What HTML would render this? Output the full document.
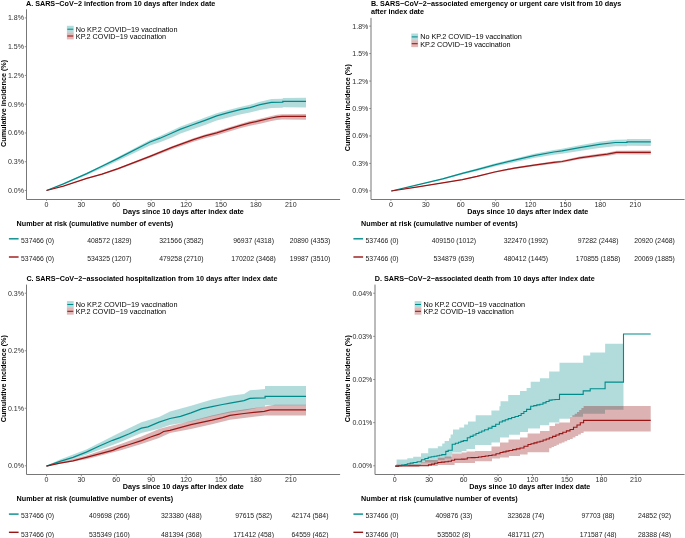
<!DOCTYPE html>
<html><head><meta charset="utf-8"><style>
html,body{margin:0;padding:0;background:#fff;}
body{width:685px;height:538px;overflow:hidden;}
svg{display:block;font-family:"Liberation Sans", sans-serif;will-change:transform;}
</style></head><body>
<svg width="685" height="538" viewBox="0 0 685 538">
<rect width="685" height="538" fill="#fff"/>
<text x="26.00" y="5.80" font-size="7.2" text-anchor="start" font-weight="bold" fill="#000" >A. SARS−CoV−2 infection from 10 days after index date</text>
<polygon points="46.50,190.50 63.40,183.45 86.70,172.77 101.90,165.15 118.00,156.96 150.00,139.97 160.00,135.89 172.00,130.40 180.00,126.77 193.40,121.82 200.00,119.50 205.00,117.59 216.70,113.16 228.40,109.94 240.00,106.91 250.00,104.79 260.00,101.66 271.40,99.00 282.80,98.72 282.80,98.02 306.00,97.85 306.00,107.45 282.80,107.16 282.80,107.86 271.40,107.91 260.00,109.88 250.00,112.39 240.00,114.45 228.40,117.41 216.70,120.56 205.00,124.92 200.00,126.80 193.40,129.06 180.00,133.87 172.00,137.42 160.00,142.14 150.00,145.47 118.00,160.86 101.90,168.25 86.70,175.02 63.40,184.40 46.50,190.50" fill="#008B8B" fill-opacity="0.3" stroke="none"/>
<polygon points="46.50,190.50 63.40,185.94 86.70,178.02 101.90,173.67 118.00,167.92 150.00,155.33 172.00,146.24 193.40,138.25 205.00,134.46 216.70,131.27 228.40,127.57 240.00,123.88 250.00,121.11 260.00,118.83 271.40,116.05 277.00,114.81 282.00,114.28 306.00,114.12 306.00,119.72 282.00,119.46 277.00,119.91 271.40,121.05 260.00,123.63 250.00,125.71 240.00,128.28 228.40,131.74 216.70,135.20 205.00,138.16 193.40,141.71 172.00,149.21 150.00,157.81 118.00,169.67 101.90,175.03 86.70,179.00 63.40,186.35 46.50,190.50" fill="#8B0000" fill-opacity="0.3" stroke="none"/>
<polyline points="46.50,190.50 63.40,183.80 86.70,173.60 101.90,166.30 118.00,158.40 150.00,142.00 160.00,138.20 172.00,133.00 180.00,129.40 193.40,124.50 200.00,122.20 205.00,120.30 216.70,115.90 228.40,112.70 240.00,109.70 250.00,107.60 260.00,104.70 271.40,102.30 282.80,102.10 282.80,101.40 306.00,101.40" fill="none" stroke="#008B8B" stroke-width="1.25" stroke-linejoin="miter"/>
<polyline points="46.50,190.50 63.40,186.10 86.70,178.40 101.90,174.20 118.00,168.60 150.00,156.30 172.00,147.40 193.40,139.60 205.00,135.90 216.70,132.80 228.40,129.20 240.00,125.60 250.00,122.90 260.00,120.70 271.40,118.00 277.00,116.80 282.00,116.30 306.00,116.30" fill="none" stroke="#9A1414" stroke-width="1.25" stroke-linejoin="miter"/>
<path d="M26.50,9.30 L26.50,199.50 L340.10,199.50" fill="none" stroke="#777777" stroke-width="1"/>
<line x1="24.80" y1="190.47" x2="26.60" y2="190.47" stroke="#777777" stroke-width="0.8"/>
<text x="24.00" y="192.94" font-size="7.06" text-anchor="end" font-weight="normal" fill="#2e2e2e" >0.0%</text>
<line x1="24.80" y1="161.72" x2="26.60" y2="161.72" stroke="#777777" stroke-width="0.8"/>
<text x="24.00" y="164.19" font-size="7.06" text-anchor="end" font-weight="normal" fill="#2e2e2e" >0.3%</text>
<line x1="24.80" y1="132.96" x2="26.60" y2="132.96" stroke="#777777" stroke-width="0.8"/>
<text x="24.00" y="135.43" font-size="7.06" text-anchor="end" font-weight="normal" fill="#2e2e2e" >0.6%</text>
<line x1="24.80" y1="104.20" x2="26.60" y2="104.20" stroke="#777777" stroke-width="0.8"/>
<text x="24.00" y="106.67" font-size="7.06" text-anchor="end" font-weight="normal" fill="#2e2e2e" >0.9%</text>
<line x1="24.80" y1="75.44" x2="26.60" y2="75.44" stroke="#777777" stroke-width="0.8"/>
<text x="24.00" y="77.91" font-size="7.06" text-anchor="end" font-weight="normal" fill="#2e2e2e" >1.2%</text>
<line x1="24.80" y1="46.68" x2="26.60" y2="46.68" stroke="#777777" stroke-width="0.8"/>
<text x="24.00" y="49.16" font-size="7.06" text-anchor="end" font-weight="normal" fill="#2e2e2e" >1.5%</text>
<line x1="24.80" y1="17.93" x2="26.60" y2="17.93" stroke="#777777" stroke-width="0.8"/>
<text x="24.00" y="20.40" font-size="7.06" text-anchor="end" font-weight="normal" fill="#2e2e2e" >1.8%</text>
<line x1="46.49" y1="199.10" x2="46.49" y2="200.90" stroke="#777777" stroke-width="0.8"/>
<text x="46.49" y="206.90" font-size="7.06" text-anchor="middle" font-weight="normal" fill="#2e2e2e" >0</text>
<line x1="81.39" y1="199.10" x2="81.39" y2="200.90" stroke="#777777" stroke-width="0.8"/>
<text x="81.39" y="206.90" font-size="7.06" text-anchor="middle" font-weight="normal" fill="#2e2e2e" >30</text>
<line x1="116.29" y1="199.10" x2="116.29" y2="200.90" stroke="#777777" stroke-width="0.8"/>
<text x="116.29" y="206.90" font-size="7.06" text-anchor="middle" font-weight="normal" fill="#2e2e2e" >60</text>
<line x1="151.19" y1="199.10" x2="151.19" y2="200.90" stroke="#777777" stroke-width="0.8"/>
<text x="151.19" y="206.90" font-size="7.06" text-anchor="middle" font-weight="normal" fill="#2e2e2e" >90</text>
<line x1="186.08" y1="199.10" x2="186.08" y2="200.90" stroke="#777777" stroke-width="0.8"/>
<text x="186.08" y="206.90" font-size="7.06" text-anchor="middle" font-weight="normal" fill="#2e2e2e" >120</text>
<line x1="220.98" y1="199.10" x2="220.98" y2="200.90" stroke="#777777" stroke-width="0.8"/>
<text x="220.98" y="206.90" font-size="7.06" text-anchor="middle" font-weight="normal" fill="#2e2e2e" >150</text>
<line x1="255.88" y1="199.10" x2="255.88" y2="200.90" stroke="#777777" stroke-width="0.8"/>
<text x="255.88" y="206.90" font-size="7.06" text-anchor="middle" font-weight="normal" fill="#2e2e2e" >180</text>
<line x1="290.78" y1="199.10" x2="290.78" y2="200.90" stroke="#777777" stroke-width="0.8"/>
<text x="290.78" y="206.90" font-size="7.06" text-anchor="middle" font-weight="normal" fill="#2e2e2e" >210</text>
<text x="183.35" y="214.10" font-size="7.2" text-anchor="middle" font-weight="bold" fill="#000" >Days since 10 days after index date</text>
<text transform="translate(6.10,103.40) rotate(-90)" x="0" y="0" font-size="7.2" text-anchor="middle" font-weight="bold" fill="#000">Cumulative incidence (%)</text>
<rect x="66.90" y="25.80" width="6.8" height="6.8" fill="#008B8B" fill-opacity="0.3"/>
<line x1="67.30" y1="29.20" x2="73.30" y2="29.20" stroke="#008B8B" stroke-width="1.05"/>
<text x="75.80" y="31.69" font-size="7.25" text-anchor="start" font-weight="normal" fill="#000" >No KP.2 COVID−19 vaccination</text>
<rect x="66.90" y="32.60" width="6.8" height="6.8" fill="#9A1414" fill-opacity="0.3"/>
<line x1="67.30" y1="36.00" x2="73.30" y2="36.00" stroke="#9A1414" stroke-width="1.05"/>
<text x="75.80" y="39.09" font-size="7.25" text-anchor="start" font-weight="normal" fill="#000" >KP.2 COVID−19 vaccination</text>
<text x="16.60" y="225.90" font-size="7.2" text-anchor="start" font-weight="bold" fill="#000" >Number at risk (cumulative number of events)</text>
<line x1="8.90" y1="238.80" x2="18.60" y2="238.80" stroke="#008B8B" stroke-width="1.4"/>
<text x="37.60" y="243.10" font-size="6.85" text-anchor="middle" font-weight="normal" fill="#1a1a1a" >537466 (0)</text>
<text x="109.40" y="243.10" font-size="6.85" text-anchor="middle" font-weight="normal" fill="#1a1a1a" >408572 (1829)</text>
<text x="181.40" y="243.10" font-size="6.85" text-anchor="middle" font-weight="normal" fill="#1a1a1a" >321566 (3582)</text>
<text x="253.60" y="243.10" font-size="6.85" text-anchor="middle" font-weight="normal" fill="#1a1a1a" >96937 (4318)</text>
<text x="310.00" y="243.10" font-size="6.85" text-anchor="middle" font-weight="normal" fill="#1a1a1a" >20890 (4353)</text>
<line x1="8.90" y1="257.00" x2="18.60" y2="257.00" stroke="#9A1414" stroke-width="1.4"/>
<text x="37.60" y="261.30" font-size="6.85" text-anchor="middle" font-weight="normal" fill="#1a1a1a" >537466 (0)</text>
<text x="109.40" y="261.30" font-size="6.85" text-anchor="middle" font-weight="normal" fill="#1a1a1a" >534325 (1207)</text>
<text x="181.40" y="261.30" font-size="6.85" text-anchor="middle" font-weight="normal" fill="#1a1a1a" >479258 (2710)</text>
<text x="253.60" y="261.30" font-size="6.85" text-anchor="middle" font-weight="normal" fill="#1a1a1a" >170202 (3468)</text>
<text x="310.00" y="261.30" font-size="6.85" text-anchor="middle" font-weight="normal" fill="#1a1a1a" >19987 (3510)</text>
<text x="370.90" y="6.00" font-size="7.2" text-anchor="start" font-weight="bold" fill="#000" >B. SARS−CoV−2−associated emergency or urgent care visit from 10 days</text>
<text x="370.90" y="13.90" font-size="7.2" text-anchor="start" font-weight="bold" fill="#000" >after index date</text>
<polygon points="391.30,191.00 416.30,184.89 442.60,178.27 462.30,172.53 477.00,168.56 494.70,163.54 514.40,158.71 534.10,153.86 553.80,149.98 562.00,148.66 579.70,145.20 599.40,141.72 615.20,139.71 627.00,139.43 627.00,139.03 650.80,138.88 650.80,146.08 627.00,145.86 627.00,146.26 615.20,146.35 599.40,148.10 579.70,150.91 562.00,153.76 553.80,154.79 534.10,158.00 514.40,162.26 494.70,166.54 477.00,171.04 462.30,174.60 442.60,179.77 416.30,185.62 391.30,191.00" fill="#008B8B" fill-opacity="0.3" stroke="none"/>
<polygon points="391.30,191.00 416.30,187.04 442.60,182.58 462.30,179.16 477.00,175.87 494.70,171.36 514.40,167.33 534.10,164.29 553.80,161.36 562.00,160.41 579.70,156.59 599.40,153.85 607.30,152.79 616.50,150.80 650.80,150.50 650.80,154.50 616.50,154.13 607.30,155.93 599.40,156.85 579.70,159.28 562.00,162.84 553.80,163.67 534.10,166.31 514.40,169.04 494.70,172.78 477.00,177.05 462.30,180.14 442.60,183.29 416.30,187.39 391.30,191.00" fill="#8B0000" fill-opacity="0.3" stroke="none"/>
<polyline points="391.30,191.00 416.30,185.20 442.60,178.90 462.30,173.40 477.00,169.60 494.70,164.80 514.40,160.20 534.10,155.60 553.80,152.00 562.00,150.80 579.70,147.60 599.40,144.40 615.20,142.50 627.00,142.30 627.00,141.90 650.80,141.90" fill="none" stroke="#008B8B" stroke-width="1.25" stroke-linejoin="miter"/>
<polyline points="391.30,191.00 416.30,187.20 442.60,182.90 462.30,179.60 477.00,176.40 494.70,172.00 514.40,168.10 534.10,165.20 553.80,162.40 562.00,161.50 579.70,157.80 599.40,155.20 607.30,154.20 616.50,152.30 650.80,152.30" fill="none" stroke="#9A1414" stroke-width="1.25" stroke-linejoin="miter"/>
<path d="M371.00,17.90 L371.00,199.50 L684.60,199.50" fill="none" stroke="#777777" stroke-width="1"/>
<line x1="369.20" y1="190.86" x2="371.00" y2="190.86" stroke="#777777" stroke-width="0.8"/>
<text x="368.40" y="193.33" font-size="7.06" text-anchor="end" font-weight="normal" fill="#2e2e2e" >0.0%</text>
<line x1="369.20" y1="163.41" x2="371.00" y2="163.41" stroke="#777777" stroke-width="0.8"/>
<text x="368.40" y="165.88" font-size="7.06" text-anchor="end" font-weight="normal" fill="#2e2e2e" >0.3%</text>
<line x1="369.20" y1="135.95" x2="371.00" y2="135.95" stroke="#777777" stroke-width="0.8"/>
<text x="368.40" y="138.43" font-size="7.06" text-anchor="end" font-weight="normal" fill="#2e2e2e" >0.6%</text>
<line x1="369.20" y1="108.50" x2="371.00" y2="108.50" stroke="#777777" stroke-width="0.8"/>
<text x="368.40" y="110.97" font-size="7.06" text-anchor="end" font-weight="normal" fill="#2e2e2e" >0.9%</text>
<line x1="369.20" y1="81.05" x2="371.00" y2="81.05" stroke="#777777" stroke-width="0.8"/>
<text x="368.40" y="83.52" font-size="7.06" text-anchor="end" font-weight="normal" fill="#2e2e2e" >1.2%</text>
<line x1="369.20" y1="53.59" x2="371.00" y2="53.59" stroke="#777777" stroke-width="0.8"/>
<text x="368.40" y="56.06" font-size="7.06" text-anchor="end" font-weight="normal" fill="#2e2e2e" >1.5%</text>
<line x1="369.20" y1="26.14" x2="371.00" y2="26.14" stroke="#777777" stroke-width="0.8"/>
<text x="368.40" y="28.61" font-size="7.06" text-anchor="end" font-weight="normal" fill="#2e2e2e" >1.8%</text>
<line x1="390.90" y1="199.10" x2="390.90" y2="200.90" stroke="#777777" stroke-width="0.8"/>
<text x="390.90" y="206.90" font-size="7.06" text-anchor="middle" font-weight="normal" fill="#2e2e2e" >0</text>
<line x1="425.81" y1="199.10" x2="425.81" y2="200.90" stroke="#777777" stroke-width="0.8"/>
<text x="425.81" y="206.90" font-size="7.06" text-anchor="middle" font-weight="normal" fill="#2e2e2e" >30</text>
<line x1="460.72" y1="199.10" x2="460.72" y2="200.90" stroke="#777777" stroke-width="0.8"/>
<text x="460.72" y="206.90" font-size="7.06" text-anchor="middle" font-weight="normal" fill="#2e2e2e" >60</text>
<line x1="495.63" y1="199.10" x2="495.63" y2="200.90" stroke="#777777" stroke-width="0.8"/>
<text x="495.63" y="206.90" font-size="7.06" text-anchor="middle" font-weight="normal" fill="#2e2e2e" >90</text>
<line x1="530.53" y1="199.10" x2="530.53" y2="200.90" stroke="#777777" stroke-width="0.8"/>
<text x="530.53" y="206.90" font-size="7.06" text-anchor="middle" font-weight="normal" fill="#2e2e2e" >120</text>
<line x1="565.44" y1="199.10" x2="565.44" y2="200.90" stroke="#777777" stroke-width="0.8"/>
<text x="565.44" y="206.90" font-size="7.06" text-anchor="middle" font-weight="normal" fill="#2e2e2e" >150</text>
<line x1="600.35" y1="199.10" x2="600.35" y2="200.90" stroke="#777777" stroke-width="0.8"/>
<text x="600.35" y="206.90" font-size="7.06" text-anchor="middle" font-weight="normal" fill="#2e2e2e" >180</text>
<line x1="635.26" y1="199.10" x2="635.26" y2="200.90" stroke="#777777" stroke-width="0.8"/>
<text x="635.26" y="206.90" font-size="7.06" text-anchor="middle" font-weight="normal" fill="#2e2e2e" >210</text>
<text x="527.80" y="214.10" font-size="7.2" text-anchor="middle" font-weight="bold" fill="#000" >Days since 10 days after index date</text>
<text transform="translate(350.00,107.70) rotate(-90)" x="0" y="0" font-size="7.2" text-anchor="middle" font-weight="bold" fill="#000">Cumulative incidence (%)</text>
<rect x="411.30" y="33.50" width="6.8" height="6.8" fill="#008B8B" fill-opacity="0.3"/>
<line x1="411.70" y1="36.90" x2="417.70" y2="36.90" stroke="#008B8B" stroke-width="1.05"/>
<text x="420.20" y="39.39" font-size="7.25" text-anchor="start" font-weight="normal" fill="#000" >No KP.2 COVID−19 vaccination</text>
<rect x="411.30" y="40.30" width="6.8" height="6.8" fill="#9A1414" fill-opacity="0.3"/>
<line x1="411.70" y1="43.70" x2="417.70" y2="43.70" stroke="#9A1414" stroke-width="1.05"/>
<text x="420.20" y="46.79" font-size="7.25" text-anchor="start" font-weight="normal" fill="#000" >KP.2 COVID−19 vaccination</text>
<text x="361.10" y="225.90" font-size="7.2" text-anchor="start" font-weight="bold" fill="#000" >Number at risk (cumulative number of events)</text>
<line x1="353.40" y1="238.80" x2="363.10" y2="238.80" stroke="#008B8B" stroke-width="1.4"/>
<text x="382.10" y="243.10" font-size="6.85" text-anchor="middle" font-weight="normal" fill="#1a1a1a" >537466 (0)</text>
<text x="453.90" y="243.10" font-size="6.85" text-anchor="middle" font-weight="normal" fill="#1a1a1a" >409150 (1012)</text>
<text x="525.90" y="243.10" font-size="6.85" text-anchor="middle" font-weight="normal" fill="#1a1a1a" >322470 (1992)</text>
<text x="598.10" y="243.10" font-size="6.85" text-anchor="middle" font-weight="normal" fill="#1a1a1a" >97282 (2448)</text>
<text x="654.50" y="243.10" font-size="6.85" text-anchor="middle" font-weight="normal" fill="#1a1a1a" >20920 (2468)</text>
<line x1="353.40" y1="257.00" x2="363.10" y2="257.00" stroke="#9A1414" stroke-width="1.4"/>
<text x="382.10" y="261.30" font-size="6.85" text-anchor="middle" font-weight="normal" fill="#1a1a1a" >537466 (0)</text>
<text x="453.90" y="261.30" font-size="6.85" text-anchor="middle" font-weight="normal" fill="#1a1a1a" >534879 (639)</text>
<text x="525.90" y="261.30" font-size="6.85" text-anchor="middle" font-weight="normal" fill="#1a1a1a" >480412 (1445)</text>
<text x="598.10" y="261.30" font-size="6.85" text-anchor="middle" font-weight="normal" fill="#1a1a1a" >170855 (1858)</text>
<text x="654.50" y="261.30" font-size="6.85" text-anchor="middle" font-weight="normal" fill="#1a1a1a" >20069 (1885)</text>
<text x="26.40" y="281.30" font-size="7.2" text-anchor="start" font-weight="bold" fill="#000" >C. SARS−CoV−2−associated hospitalization from 10 days after index date</text>
<polygon points="46.40,466.10 60.00,459.50 86.30,449.50 120.00,432.40 141.40,422.20 159.00,417.10 170.00,411.50 191.00,405.80 212.00,399.60 230.00,395.70 244.00,394.00 250.00,390.20 265.00,389.00 265.00,386.10 306.00,386.10 306.00,405.30 265.00,405.30 265.00,406.50 244.00,410.50 230.00,412.50 212.00,416.30 191.00,421.50 170.00,425.00 159.00,428.70 141.40,432.90 120.00,442.30 86.30,454.80 60.00,462.80 46.40,466.10" fill="#008B8B" fill-opacity="0.3" stroke="none"/>
<polygon points="46.40,466.10 86.30,455.60 120.00,444.20 141.40,436.60 159.00,429.10 170.00,425.90 191.00,421.10 212.00,415.40 230.00,411.50 265.00,406.50 275.00,404.80 306.00,404.80 306.00,415.50 265.00,415.50 230.00,419.80 212.00,424.20 191.00,429.00 170.00,432.90 159.00,438.00 141.40,444.00 120.00,450.50 86.30,459.20 46.40,466.10" fill="#8B0000" fill-opacity="0.3" stroke="none"/>
<polyline points="46.40,466.10 60.00,461.30 73.10,457.40 86.30,452.10 99.40,446.00 112.60,440.30 120.00,437.60 129.30,433.80 141.40,428.20 147.90,426.80 159.00,422.20 170.00,418.50 180.50,416.30 191.00,412.80 201.50,408.80 212.00,406.60 222.50,404.50 230.00,403.10 244.00,400.70 249.90,398.40 265.10,397.80 265.10,396.40 306.00,396.40" fill="none" stroke="#008B8B" stroke-width="1.25" stroke-linejoin="miter"/>
<polyline points="46.40,466.10 60.00,463.10 73.10,460.90 86.30,457.40 99.40,453.90 112.60,450.40 120.00,447.40 129.30,444.50 141.40,440.70 150.60,437.00 159.00,434.20 163.60,431.50 170.00,430.30 191.00,424.60 212.00,420.20 222.50,417.60 230.00,415.40 244.00,413.50 264.20,411.30 270.20,409.90 306.00,409.90" fill="none" stroke="#9A1414" stroke-width="1.25" stroke-linejoin="miter"/>
<path d="M26.50,284.60 L26.50,474.50 L340.10,474.50" fill="none" stroke="#777777" stroke-width="1"/>
<line x1="24.80" y1="465.77" x2="26.60" y2="465.77" stroke="#777777" stroke-width="0.8"/>
<text x="24.00" y="468.24" font-size="7.06" text-anchor="end" font-weight="normal" fill="#2e2e2e" >0.0%</text>
<line x1="24.80" y1="408.26" x2="26.60" y2="408.26" stroke="#777777" stroke-width="0.8"/>
<text x="24.00" y="410.73" font-size="7.06" text-anchor="end" font-weight="normal" fill="#2e2e2e" >0.1%</text>
<line x1="24.80" y1="350.74" x2="26.60" y2="350.74" stroke="#777777" stroke-width="0.8"/>
<text x="24.00" y="353.21" font-size="7.06" text-anchor="end" font-weight="normal" fill="#2e2e2e" >0.2%</text>
<line x1="24.80" y1="293.23" x2="26.60" y2="293.23" stroke="#777777" stroke-width="0.8"/>
<text x="24.00" y="295.70" font-size="7.06" text-anchor="end" font-weight="normal" fill="#2e2e2e" >0.3%</text>
<line x1="46.49" y1="474.40" x2="46.49" y2="476.20" stroke="#777777" stroke-width="0.8"/>
<text x="46.49" y="482.20" font-size="7.06" text-anchor="middle" font-weight="normal" fill="#2e2e2e" >0</text>
<line x1="81.39" y1="474.40" x2="81.39" y2="476.20" stroke="#777777" stroke-width="0.8"/>
<text x="81.39" y="482.20" font-size="7.06" text-anchor="middle" font-weight="normal" fill="#2e2e2e" >30</text>
<line x1="116.29" y1="474.40" x2="116.29" y2="476.20" stroke="#777777" stroke-width="0.8"/>
<text x="116.29" y="482.20" font-size="7.06" text-anchor="middle" font-weight="normal" fill="#2e2e2e" >60</text>
<line x1="151.19" y1="474.40" x2="151.19" y2="476.20" stroke="#777777" stroke-width="0.8"/>
<text x="151.19" y="482.20" font-size="7.06" text-anchor="middle" font-weight="normal" fill="#2e2e2e" >90</text>
<line x1="186.08" y1="474.40" x2="186.08" y2="476.20" stroke="#777777" stroke-width="0.8"/>
<text x="186.08" y="482.20" font-size="7.06" text-anchor="middle" font-weight="normal" fill="#2e2e2e" >120</text>
<line x1="220.98" y1="474.40" x2="220.98" y2="476.20" stroke="#777777" stroke-width="0.8"/>
<text x="220.98" y="482.20" font-size="7.06" text-anchor="middle" font-weight="normal" fill="#2e2e2e" >150</text>
<line x1="255.88" y1="474.40" x2="255.88" y2="476.20" stroke="#777777" stroke-width="0.8"/>
<text x="255.88" y="482.20" font-size="7.06" text-anchor="middle" font-weight="normal" fill="#2e2e2e" >180</text>
<line x1="290.78" y1="474.40" x2="290.78" y2="476.20" stroke="#777777" stroke-width="0.8"/>
<text x="290.78" y="482.20" font-size="7.06" text-anchor="middle" font-weight="normal" fill="#2e2e2e" >210</text>
<text x="183.35" y="489.40" font-size="7.2" text-anchor="middle" font-weight="bold" fill="#000" >Days since 10 days after index date</text>
<text transform="translate(6.10,378.70) rotate(-90)" x="0" y="0" font-size="7.2" text-anchor="middle" font-weight="bold" fill="#000">Cumulative incidence (%)</text>
<rect x="66.90" y="301.10" width="6.8" height="6.8" fill="#008B8B" fill-opacity="0.3"/>
<line x1="67.30" y1="304.50" x2="73.30" y2="304.50" stroke="#008B8B" stroke-width="1.05"/>
<text x="75.80" y="306.99" font-size="7.25" text-anchor="start" font-weight="normal" fill="#000" >No KP.2 COVID−19 vaccination</text>
<rect x="66.90" y="307.90" width="6.8" height="6.8" fill="#9A1414" fill-opacity="0.3"/>
<line x1="67.30" y1="311.30" x2="73.30" y2="311.30" stroke="#9A1414" stroke-width="1.05"/>
<text x="75.80" y="314.39" font-size="7.25" text-anchor="start" font-weight="normal" fill="#000" >KP.2 COVID−19 vaccination</text>
<text x="16.60" y="501.20" font-size="7.2" text-anchor="start" font-weight="bold" fill="#000" >Number at risk (cumulative number of events)</text>
<line x1="8.90" y1="514.10" x2="18.60" y2="514.10" stroke="#008B8B" stroke-width="1.4"/>
<text x="37.60" y="518.40" font-size="6.85" text-anchor="middle" font-weight="normal" fill="#1a1a1a" >537466 (0)</text>
<text x="109.40" y="518.40" font-size="6.85" text-anchor="middle" font-weight="normal" fill="#1a1a1a" >409698 (266)</text>
<text x="181.40" y="518.40" font-size="6.85" text-anchor="middle" font-weight="normal" fill="#1a1a1a" >323380 (488)</text>
<text x="253.60" y="518.40" font-size="6.85" text-anchor="middle" font-weight="normal" fill="#1a1a1a" >97615 (582)</text>
<text x="310.00" y="518.40" font-size="6.85" text-anchor="middle" font-weight="normal" fill="#1a1a1a" >42174 (584)</text>
<line x1="8.90" y1="532.30" x2="18.60" y2="532.30" stroke="#9A1414" stroke-width="1.4"/>
<text x="37.60" y="536.60" font-size="6.85" text-anchor="middle" font-weight="normal" fill="#1a1a1a" >537466 (0)</text>
<text x="109.40" y="536.60" font-size="6.85" text-anchor="middle" font-weight="normal" fill="#1a1a1a" >535349 (160)</text>
<text x="181.40" y="536.60" font-size="6.85" text-anchor="middle" font-weight="normal" fill="#1a1a1a" >481394 (368)</text>
<text x="253.60" y="536.60" font-size="6.85" text-anchor="middle" font-weight="normal" fill="#1a1a1a" >171412 (458)</text>
<text x="310.00" y="536.60" font-size="6.85" text-anchor="middle" font-weight="normal" fill="#1a1a1a" >64559 (462)</text>
<text x="374.80" y="281.30" font-size="7.2" text-anchor="start" font-weight="bold" fill="#000" >D. SARS−CoV−2−associated death from 10 days after index date</text>
<polygon points="395.20,466.10 396.60,466.10 396.60,466.10 396.60,459.50 407.30,459.50 407.30,458.30 413.20,458.30 413.20,456.80 421.00,456.80 421.00,453.30 428.20,453.30 428.20,448.20 437.80,448.20 437.80,446.20 442.20,446.20 442.20,443.40 444.60,443.40 444.60,441.00 449.00,441.00 449.00,438.20 450.60,438.20 450.60,434.60 453.00,434.60 453.00,429.40 459.30,429.40 459.30,427.40 464.10,427.40 464.10,424.50 468.00,424.50 468.00,421.50 475.70,421.50 475.70,415.30 491.40,415.30 491.40,410.50 499.40,410.50 499.40,406.30 500.50,406.30 500.50,401.20 508.20,401.20 508.20,395.00 520.00,395.00 520.00,390.90 526.60,390.90 526.60,387.90 530.70,387.90 530.70,381.70 539.90,381.70 539.90,378.30 549.10,378.30 549.10,371.50 559.50,371.50 559.50,362.80 583.20,362.80 583.20,355.50 590.20,355.50 590.20,352.50 605.10,352.50 605.10,343.70 623.50,343.70 623.50,343.70 623.50,409.70 623.50,409.70 605.00,409.70 605.00,413.80 583.00,413.80 583.00,416.70 570.00,416.70 570.00,418.70 559.40,418.70 559.40,422.40 549.20,422.40 549.20,425.20 540.00,425.20 540.00,428.50 528.00,428.50 528.00,431.90 520.00,431.90 520.00,434.80 509.00,434.80 509.00,437.50 500.00,437.50 500.00,442.50 491.50,442.50 491.50,445.00 475.00,445.00 475.00,449.00 466.50,449.00 466.50,451.00 461.70,451.00 461.70,452.60 452.20,452.60 452.20,455.80 451.40,455.80 451.40,458.50 444.60,458.50 444.60,460.10 437.80,460.10 437.80,462.50 425.00,462.50 425.00,462.80 421.00,462.80 421.00,466.10 395.20,466.10" fill="#008B8B" fill-opacity="0.3" stroke="none"/>
<polygon points="395.20,466.10 396.00,466.10 396.00,464.40 407.00,464.40 407.00,464.20 421.00,464.20 421.00,462.20 425.00,462.20 425.00,460.10 437.80,460.10 437.80,457.70 444.60,457.70 444.60,456.50 452.20,456.50 452.20,453.40 461.70,453.40 461.70,452.60 466.50,452.60 466.50,451.40 475.00,451.40 475.00,451.00 491.50,451.00 491.50,446.50 500.00,446.50 500.00,442.50 508.50,442.50 508.50,439.50 520.00,439.50 520.00,437.50 527.60,437.50 527.60,433.50 540.00,433.50 540.00,431.00 549.50,431.00 549.50,426.00 555.00,426.00 555.00,423.50 559.20,423.50 559.20,422.50 570.00,422.50 570.00,417.00 570.00,417.00 572.33,417.00 572.33,415.33 574.67,415.33 574.67,413.67 577.00,413.67 577.00,412.00 579.20,412.00 579.20,410.00 581.40,410.00 581.40,408.00 583.60,408.00 583.60,406.00 650.70,406.00 650.70,431.40 583.60,431.40 583.60,432.92 580.88,432.92 580.88,434.44 578.16,434.44 578.16,435.96 575.44,435.96 575.44,437.48 572.72,437.48 572.72,439.00 570.00,439.00 570.00,440.12 567.25,440.12 567.25,441.25 564.50,441.25 564.50,442.38 561.75,442.38 561.75,443.50 559.00,443.50 559.00,444.70 556.55,444.70 556.55,445.90 554.10,445.90 554.10,447.10 551.65,447.10 551.65,448.30 549.20,448.30 549.20,448.30 549.20,452.30 527.60,452.30 527.60,454.40 520.00,454.40 520.00,456.00 509.00,456.00 509.00,457.40 500.00,457.40 500.00,458.50 492.00,458.50 492.00,461.30 475.00,461.30 475.00,462.90 454.60,462.90 454.60,465.00 437.80,465.00 437.80,466.10 425.00,466.10 425.00,466.10 395.20,466.10" fill="#8B0000" fill-opacity="0.3" stroke="none"/>
<polyline points="395.20,466.10 398.43,466.10 398.43,465.60 401.67,465.60 401.67,465.10 404.90,465.10 404.90,464.60 407.30,464.60 407.30,463.70 410.25,463.70 410.25,463.10 413.20,463.10 413.20,462.50 417.10,462.50 417.10,461.75 421.00,461.75 421.00,461.00 421.60,461.00 421.60,459.80 424.90,459.80 424.90,458.55 428.20,458.55 428.20,457.30 431.13,457.30 431.13,456.80 434.07,456.80 434.07,456.30 437.00,456.30 437.00,455.80 439.40,455.80 439.40,455.20 441.80,455.20 441.80,454.60 445.80,454.60 445.80,451.40 448.20,451.40 448.20,450.20 452.20,450.20 452.20,444.20 455.35,444.20 455.35,443.20 458.50,443.20 458.50,442.20 460.90,442.20 460.90,441.40 463.30,441.40 463.30,440.60 467.30,440.60 467.30,437.80 470.20,437.80 470.20,436.37 473.10,436.37 473.10,434.93 476.00,434.93 476.00,433.50 478.87,433.50 478.87,432.27 481.73,432.27 481.73,431.03 484.60,431.03 484.60,429.80 488.30,429.80 488.30,428.10 492.00,428.10 492.00,426.40 495.70,426.40 495.70,424.20 499.40,424.20 499.40,422.00 502.33,422.00 502.33,420.87 505.27,420.87 505.27,419.73 508.20,419.73 508.20,418.60 511.60,418.60 511.60,417.57 515.00,417.57 515.00,416.53 518.40,416.53 518.40,415.50 521.13,415.50 521.13,413.47 523.87,413.47 523.87,411.43 526.60,411.43 526.60,409.40 530.70,409.40 530.70,406.30 533.77,406.30 533.77,405.60 536.83,405.60 536.83,404.90 539.90,404.90 539.90,404.20 542.97,404.20 542.97,402.83 546.03,402.83 546.03,401.47 549.10,401.47 549.10,400.10 552.05,400.10 552.05,399.80 555.00,399.80 555.00,399.50 559.50,399.50 559.50,399.50 559.50,394.40 583.20,394.40 583.20,390.90 590.20,390.90 590.20,388.70 605.10,388.70 605.10,382.10 623.50,382.10 623.50,334.00 650.70,334.00 650.70,334.00" fill="none" stroke="#008B8B" stroke-width="1.1" stroke-linejoin="miter"/>
<polyline points="395.20,466.10 398.57,466.10 398.57,466.06 401.93,466.06 401.93,466.01 405.30,466.01 405.30,465.97 408.67,465.97 408.67,465.92 412.03,465.92 412.03,465.88 415.40,465.88 415.40,465.83 418.77,465.83 418.77,465.79 422.13,465.79 422.13,465.74 425.50,465.74 425.50,465.70 428.45,465.70 428.45,464.90 431.40,464.90 431.40,464.10 434.60,464.10 434.60,463.30 437.80,463.30 437.80,462.50 441.27,462.50 441.27,462.10 444.73,462.10 444.73,461.70 448.20,461.70 448.20,461.30 451.40,461.30 451.40,460.30 454.60,460.30 454.60,459.30 458.03,459.30 458.03,459.20 461.47,459.20 461.47,459.10 464.90,459.10 464.90,459.00 467.30,459.00 467.30,457.70 471.15,457.70 471.15,457.60 475.00,457.60 475.00,457.50 478.40,457.50 478.40,457.00 481.80,457.00 481.80,456.50 485.20,456.50 485.20,456.00 488.60,456.00 488.60,455.50 492.00,455.50 492.00,455.00 496.00,455.00 496.00,453.75 500.00,453.75 500.00,452.50 503.00,452.50 503.00,451.83 506.00,451.83 506.00,451.17 509.00,451.17 509.00,450.50 512.67,450.50 512.67,449.67 516.33,449.67 516.33,448.83 520.00,448.83 520.00,448.00 524.00,448.00 524.00,446.25 528.00,446.25 528.00,444.50 531.00,444.50 531.00,443.68 534.00,443.68 534.00,442.85 537.00,442.85 537.00,442.02 540.00,442.02 540.00,441.20 543.10,441.20 543.10,440.07 546.20,440.07 546.20,438.93 549.30,438.93 549.30,437.80 552.60,437.80 552.60,436.40 555.90,436.40 555.90,435.00 559.20,435.00 559.20,433.60 562.80,433.60 562.80,432.23 566.40,432.23 566.40,430.87 570.00,430.87 570.00,429.50 573.50,429.50 573.50,427.25 577.00,427.25 577.00,425.00 580.30,425.00 580.30,422.70 583.60,422.70 583.60,420.40 650.70,420.40" fill="none" stroke="#9A1414" stroke-width="1.1" stroke-linejoin="miter"/>
<path d="M375.00,284.60 L375.00,474.50 L684.60,474.50" fill="none" stroke="#777777" stroke-width="1"/>
<line x1="373.20" y1="465.77" x2="375.00" y2="465.77" stroke="#777777" stroke-width="0.8"/>
<text x="372.40" y="468.24" font-size="7.06" text-anchor="end" font-weight="normal" fill="#2e2e2e" >0.00%</text>
<line x1="373.20" y1="422.64" x2="375.00" y2="422.64" stroke="#777777" stroke-width="0.8"/>
<text x="372.40" y="425.11" font-size="7.06" text-anchor="end" font-weight="normal" fill="#2e2e2e" >0.01%</text>
<line x1="373.20" y1="379.50" x2="375.00" y2="379.50" stroke="#777777" stroke-width="0.8"/>
<text x="372.40" y="381.97" font-size="7.06" text-anchor="end" font-weight="normal" fill="#2e2e2e" >0.02%</text>
<line x1="373.20" y1="336.36" x2="375.00" y2="336.36" stroke="#777777" stroke-width="0.8"/>
<text x="372.40" y="338.83" font-size="7.06" text-anchor="end" font-weight="normal" fill="#2e2e2e" >0.03%</text>
<line x1="373.20" y1="293.23" x2="375.00" y2="293.23" stroke="#777777" stroke-width="0.8"/>
<text x="372.40" y="295.70" font-size="7.06" text-anchor="end" font-weight="normal" fill="#2e2e2e" >0.04%</text>
<line x1="394.64" y1="474.40" x2="394.64" y2="476.20" stroke="#777777" stroke-width="0.8"/>
<text x="394.64" y="482.20" font-size="7.06" text-anchor="middle" font-weight="normal" fill="#2e2e2e" >0</text>
<line x1="429.11" y1="474.40" x2="429.11" y2="476.20" stroke="#777777" stroke-width="0.8"/>
<text x="429.11" y="482.20" font-size="7.06" text-anchor="middle" font-weight="normal" fill="#2e2e2e" >30</text>
<line x1="463.57" y1="474.40" x2="463.57" y2="476.20" stroke="#777777" stroke-width="0.8"/>
<text x="463.57" y="482.20" font-size="7.06" text-anchor="middle" font-weight="normal" fill="#2e2e2e" >60</text>
<line x1="498.04" y1="474.40" x2="498.04" y2="476.20" stroke="#777777" stroke-width="0.8"/>
<text x="498.04" y="482.20" font-size="7.06" text-anchor="middle" font-weight="normal" fill="#2e2e2e" >90</text>
<line x1="532.50" y1="474.40" x2="532.50" y2="476.20" stroke="#777777" stroke-width="0.8"/>
<text x="532.50" y="482.20" font-size="7.06" text-anchor="middle" font-weight="normal" fill="#2e2e2e" >120</text>
<line x1="566.96" y1="474.40" x2="566.96" y2="476.20" stroke="#777777" stroke-width="0.8"/>
<text x="566.96" y="482.20" font-size="7.06" text-anchor="middle" font-weight="normal" fill="#2e2e2e" >150</text>
<line x1="601.43" y1="474.40" x2="601.43" y2="476.20" stroke="#777777" stroke-width="0.8"/>
<text x="601.43" y="482.20" font-size="7.06" text-anchor="middle" font-weight="normal" fill="#2e2e2e" >180</text>
<line x1="635.89" y1="474.40" x2="635.89" y2="476.20" stroke="#777777" stroke-width="0.8"/>
<text x="635.89" y="482.20" font-size="7.06" text-anchor="middle" font-weight="normal" fill="#2e2e2e" >210</text>
<text x="529.80" y="489.40" font-size="7.2" text-anchor="middle" font-weight="bold" fill="#000" >Days since 10 days after index date</text>
<text transform="translate(350.00,378.70) rotate(-90)" x="0" y="0" font-size="7.2" text-anchor="middle" font-weight="bold" fill="#000">Cumulative incidence (%)</text>
<rect x="414.60" y="301.10" width="6.8" height="6.8" fill="#008B8B" fill-opacity="0.3"/>
<line x1="415.00" y1="304.50" x2="421.00" y2="304.50" stroke="#008B8B" stroke-width="1.05"/>
<text x="423.50" y="306.99" font-size="7.25" text-anchor="start" font-weight="normal" fill="#000" >No KP.2 COVID−19 vaccination</text>
<rect x="414.60" y="307.90" width="6.8" height="6.8" fill="#9A1414" fill-opacity="0.3"/>
<line x1="415.00" y1="311.30" x2="421.00" y2="311.30" stroke="#9A1414" stroke-width="1.05"/>
<text x="423.50" y="314.39" font-size="7.25" text-anchor="start" font-weight="normal" fill="#000" >KP.2 COVID−19 vaccination</text>
<text x="361.10" y="501.20" font-size="7.2" text-anchor="start" font-weight="bold" fill="#000" >Number at risk (cumulative number of events)</text>
<line x1="353.40" y1="514.10" x2="363.10" y2="514.10" stroke="#008B8B" stroke-width="1.4"/>
<text x="382.10" y="518.40" font-size="6.85" text-anchor="middle" font-weight="normal" fill="#1a1a1a" >537466 (0)</text>
<text x="453.90" y="518.40" font-size="6.85" text-anchor="middle" font-weight="normal" fill="#1a1a1a" >409876 (33)</text>
<text x="525.90" y="518.40" font-size="6.85" text-anchor="middle" font-weight="normal" fill="#1a1a1a" >323628 (74)</text>
<text x="598.10" y="518.40" font-size="6.85" text-anchor="middle" font-weight="normal" fill="#1a1a1a" >97703 (88)</text>
<text x="654.50" y="518.40" font-size="6.85" text-anchor="middle" font-weight="normal" fill="#1a1a1a" >24852 (92)</text>
<line x1="353.40" y1="532.30" x2="363.10" y2="532.30" stroke="#9A1414" stroke-width="1.4"/>
<text x="382.10" y="536.60" font-size="6.85" text-anchor="middle" font-weight="normal" fill="#1a1a1a" >537466 (0)</text>
<text x="453.90" y="536.60" font-size="6.85" text-anchor="middle" font-weight="normal" fill="#1a1a1a" >535502 (8)</text>
<text x="525.90" y="536.60" font-size="6.85" text-anchor="middle" font-weight="normal" fill="#1a1a1a" >481711 (27)</text>
<text x="598.10" y="536.60" font-size="6.85" text-anchor="middle" font-weight="normal" fill="#1a1a1a" >171587 (48)</text>
<text x="654.50" y="536.60" font-size="6.85" text-anchor="middle" font-weight="normal" fill="#1a1a1a" >28388 (48)</text>
</svg></body></html>
